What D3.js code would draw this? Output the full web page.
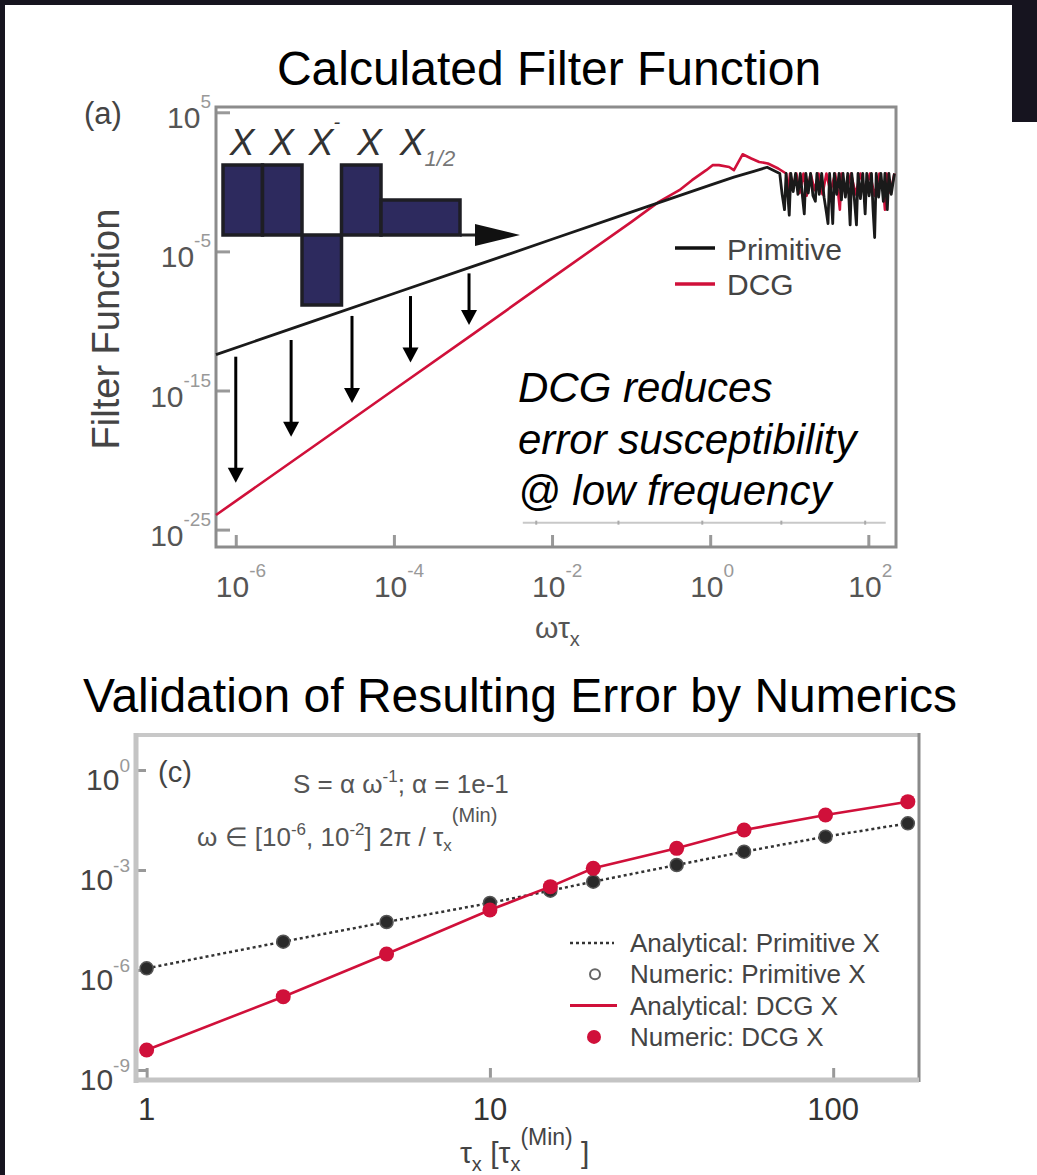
<!DOCTYPE html>
<html>
<head>
<meta charset="utf-8">
<script src="https://cdn.jsdelivr.net/npm/d3@7/dist/d3.min.js"></script>
<style>
  body { margin: 0; background: #fff; }
  svg text { font-family: "Liberation Sans", Arial, Helvetica, sans-serif; }
</style>
</head>
<body>
<svg id="fig" width="1037" height="1175"></svg>
<script>
// ---------- panel (a) data : log10 values ----------
const primLogW = [-6.25,-5,-4,-3,-2,-1,0,0.3,0.55,0.72,0.88,
  0.91,0.94,0.96,0.98,1.00,1.02,1.05,1.08,1.11,1.14,1.17,1.19,1.21,1.24,1.27,1.30,1.33,1.35,1.38,1.41,
  1.44,1.47,1.49,1.51,1.53,1.55,1.57,1.60,1.63,1.66,1.68,1.71,1.74,1.77,1.79,1.82,1.85,1.87,1.90,1.93,
  1.96,1.98,2.01,2.04,2.06,2.08,2.10,2.13,2.16,2.19,2.21,2.24,2.26,2.29,2.33];
const primLogF = [-12.42,-9.98,-8.03,-6.08,-4.13,-2.18,-0.24,0.34,0.75,1.05,0.6,
  -0.9,-2.0,0.6,-0.8,-2.4,0.6,-0.7,0.6,-0.9,0.6,-1.2,-2.3,0.6,-0.8,0.6,-1.0,-1.4,0.6,-0.9,0.6,
  -1.1,-2.2,-3.0,0.6,-1.0,-3.0,0.6,-0.9,0.6,-1.3,0.6,-1.1,0.6,-3.1,0.6,-1.0,-3.1,0.6,-1.2,0.6,
  -2.3,0.6,-1.0,0.6,-2.0,-4.0,0.6,-1.1,0.6,-1.4,0.6,-2.0,0.6,-0.9,0.6];

const dcgLogW = [-6.25,-5,-4,-3,-2,-1,-0.65,-0.39,-0.23,-0.05,0.03,0.11,0.24,0.3,0.41,0.52,0.62,0.73,0.86,0.96,
  0.98,1.01,1.05,1.09,1.13,1.18,1.22,1.27,1.32,1.37,1.42,1.47,1.52,1.58,1.62,1.64,1.66,1.72,1.78,1.84,
  1.90,1.96,2.02,2.08,2.14,2.19,2.21,2.23,2.28,2.33];
const dcgLogF = [-23.95,-18.95,-14.95,-10.95,-6.9,-2.9,-1.44,-0.6,0.12,0.84,1.2,1.2,1.07,0.84,1.98,1.68,1.43,1.32,0.96,0.6,
  -1.0,0.6,-0.3,0.6,-0.8,0.6,-1.0,0.6,-0.6,0.6,-0.9,0.6,-0.7,0.6,-0.9,-2.0,0.6,-0.8,0.6,-0.9,
  0.6,-0.7,0.6,-1.0,0.6,-0.6,-2.0,0.6,-0.8,0.6];

// arrows: where primitive is pushed down to DCG
const arrowLogW    = [-6.0, -5.3, -4.53, -3.79, -3.05];
const arrowFromLog = [-12.57, -11.37, -9.64, -8.21, -6.58];
const arrowToLog   = [-21.63, -18.33, -15.89, -12.99, -10.29];

// faint leftover axis seen inside panel (a)
const ghostTickLogW = [-2.2, -1.16, -0.1, 0.9, 1.96];

// pulse sequence inset
const pulseLabels = ['X', 'X', 'X', 'X', 'X'];
const pulseSup    = ['', '', '-', '', ''];
const pulseSub    = ['', '', '', '', '1/2'];
const pulseAmp    = [1, 1, -1, 1, 0.5];
const pulseLen    = [1, 1, 1, 1, 2];

const ffXTicks = [-6, -4, -2, 0, 2];
const ffYTicks = [5, -5, -15, -25];
const ffLegend = ['Primitive', 'DCG'];
const ffNote   = ['DCG reduces', 'error susceptibility', '@ low frequency'];

// ---------- panel (c) data ----------
const tauVals    = [1, 2.5, 5, 10, 15, 20, 35, 55, 95, 165];
const primErrLog = [-5.95, -5.15, -4.56, -3.99, -3.62, -3.35, -2.85, -2.45, -2.0, -1.6];
const dcgErrLog  = [-8.4, -6.8, -5.52, -4.2, -3.5, -2.95, -2.35, -1.8, -1.35, -0.95];
const errXTicks  = [1, 10, 100];
const errYTicks  = [0, -3, -6, -9];
const errLegend  = ['Analytical: Primitive X', 'Numeric: Primitive X', 'Analytical: DCG X', 'Numeric: DCG X'];

const RED = '#d0103a';
const svg = d3.select('#fig');

// text built from runs: {t, size, off (baseline offset), fill}
function richText(g, x, y, runs, base) {
    const t = g.append('text').attr('x', x).attr('y', y)
        .attr('font-size', base.size).attr('fill', base.fill || '#000')
        .attr('text-anchor', base.anchor || 'start')
        .attr('font-style', base.style || 'normal');
    let cur = 0;
    runs.forEach(r => {
        const off = r.off || 0;
        const ts = t.append('tspan').attr('dy', off - cur).text(r.t);
        if (r.size) ts.attr('font-size', r.size);
        if (r.fill) ts.attr('fill', r.fill);
        cur = off;
    });
    return t;
}

// ---------- outer frame ----------
svg.append('rect').attr('x', 0).attr('y', 0).attr('width', 1037).attr('height', 5).attr('fill', '#16141f');
svg.append('rect').attr('x', 0).attr('y', 0).attr('width', 5).attr('height', 1175).attr('fill', '#16141f');
svg.append('rect').attr('x', 1012).attr('y', 0).attr('width', 25).attr('height', 122).attr('fill', '#16141f');

// ---------- titles ----------
svg.append('text').attr('x', 549).attr('y', 85).attr('text-anchor', 'middle')
    .attr('font-size', 48).attr('fill', '#000').text('Calculated Filter Function');
svg.append('text').attr('x', 520).attr('y', 712).attr('text-anchor', 'middle')
    .attr('font-size', 48).attr('fill', '#000').text('Validation of Resulting Error by Numerics');

// ================= panel (a) =================
const A = { left: 216, right: 896, top: 107, bottom: 547 };
const xA = d3.scaleLog().domain([Math.pow(10, -6.25), Math.pow(10, 2.35)]).range([A.left, A.right]);
const yA = d3.scaleLog().domain([Math.pow(10, -26.25), Math.pow(10, 5.38)]).range([A.bottom, A.top]);
const gA = svg.append('g');

// ghost axis
const ghostY = yA(Math.pow(10, -24.5));
gA.append('line').attr('x1', xA(Math.pow(10, -2.37))).attr('x2', xA(Math.pow(10, 2.22)))
    .attr('y1', ghostY).attr('y2', ghostY)
    .attr('stroke', '#c8c8c8').attr('stroke-width', 2);
gA.selectAll('.ghost').data(ghostTickLogW).enter().append('line')
    .attr('x1', d => xA(Math.pow(10, d))).attr('x2', d => xA(Math.pow(10, d)))
    .attr('y1', ghostY - 2).attr('y2', ghostY + 2)
    .attr('stroke', '#aaa').attr('stroke-width', 2);

// axes (ticks inward)
const xAxisA = d3.axisBottom(xA).tickValues(ffXTicks.map(e => Math.pow(10, e))).tickSize(-12).tickFormat('');
const yAxisA = d3.axisLeft(yA).tickValues(ffYTicks.map(e => Math.pow(10, e))).tickSize(-14).tickFormat('');
const xgA = gA.append('g').attr('transform', `translate(0, ${A.bottom})`).call(xAxisA);
const ygA = gA.append('g').attr('transform', `translate(${A.left}, 0)`).call(yAxisA);
[xgA, ygA].forEach(g => {
    g.select('.domain').remove();
    g.selectAll('.tick line').attr('stroke', '#999').attr('stroke-width', 3);
});

ffXTicks.forEach(e => {
    richText(gA, xA(Math.pow(10, e)) - 20, A.bottom + 50,
        [{ t: '10' }, { t: String(e), size: 19, off: -20, fill: '#999' }],
        { size: 30, fill: '#555' });
});
ffYTicks.forEach(e => {
    richText(gA, A.left - 5, yA(Math.pow(10, e)) + 16,
        [{ t: '10' }, { t: String(e), size: 19, off: -20, fill: '#999' }],
        { size: 30, fill: '#555', anchor: 'end' });
});

// frame
gA.append('rect').attr('x', A.left).attr('y', A.top)
    .attr('width', A.right - A.left).attr('height', A.bottom - A.top)
    .attr('fill', 'none').attr('stroke', '#8c8c8c').attr('stroke-width', 3);

// axis labels
svg.append('text').attr('transform', 'translate(119, 329) rotate(-90)')
    .attr('text-anchor', 'middle').attr('font-size', 38).attr('fill', '#444').text('Filter Function');
richText(svg, 535, 638, [{ t: 'ωτ' }, { t: 'x', size: 20, off: 8 }], { size: 30, fill: '#555' });
svg.append('text').attr('x', 84).attr('y', 124).attr('font-size', 31).attr('fill', '#444').text('(a)');

// filter function curves
const lineA = d3.line().x(d => xA(Math.pow(10, d[0]))).y(d => yA(Math.pow(10, d[1])));
gA.append('path').datum(d3.zip(dcgLogW, dcgLogF)).attr('d', lineA)
    .attr('fill', 'none').attr('stroke', RED).attr('stroke-width', 2.6).attr('stroke-linejoin', 'round');
gA.append('path').datum(d3.zip(primLogW, primLogF)).attr('d', lineA)
    .attr('fill', 'none').attr('stroke', '#1a1a1a').attr('stroke-width', 2.8).attr('stroke-linejoin', 'round');

// arrows
const arrows = d3.zip(arrowLogW, arrowFromLog, arrowToLog);
const ag = gA.selectAll('.arrow').data(arrows).enter().append('g');
ag.append('line')
    .attr('x1', d => xA(Math.pow(10, d[0]))).attr('x2', d => xA(Math.pow(10, d[0])))
    .attr('y1', d => yA(Math.pow(10, d[1]))).attr('y2', d => yA(Math.pow(10, d[2])) - 12)
    .attr('stroke', '#000').attr('stroke-width', 3);
ag.append('path')
    .attr('d', d => {
        const x = xA(Math.pow(10, d[0])), y = yA(Math.pow(10, d[2]));
        return `M${x - 8},${y - 15}L${x + 8},${y - 15}L${x},${y}Z`;
    })
    .attr('fill', '#000');

// pulse inset
const pStart = d3.cumsum([0].concat(pulseLen.slice(0, -1)));
const xP = d3.scaleLinear().domain([0, d3.sum(pulseLen)]).range([223, 460]);
const yP = d3.scaleLinear().domain([-1, 1]).range([305, 165]);
const gP = svg.append('g');
gP.append('line').attr('x1', xP(d3.sum(pulseLen))).attr('x2', 478)
    .attr('y1', yP(0)).attr('y2', yP(0)).attr('stroke', '#222').attr('stroke-width', 3);
gP.append('path').attr('d', `M475,${yP(0) - 11}L520,${yP(0)}L475,${yP(0) + 11}Z`).attr('fill', '#111');
gP.selectAll('rect').data(pulseAmp).enter().append('rect')
    .attr('x', (d, i) => xP(pStart[i]))
    .attr('width', (d, i) => xP(pStart[i] + pulseLen[i]) - xP(pStart[i]))
    .attr('y', d => Math.min(yP(d), yP(0)))
    .attr('height', d => Math.abs(yP(d) - yP(0)))
    .attr('fill', '#2d2a5e').attr('stroke', '#1e1e24').attr('stroke-width', 3.5);
pulseLabels.forEach((lab, i) => {
    const runs = [{ t: lab }];
    if (pulseSup[i]) runs.push({ t: pulseSup[i], size: 20, off: -26 });
    if (pulseSub[i]) runs.push({ t: pulseSub[i], size: 22, off: 11, fill: '#777' });
    const cx = xP(pStart[i] + pulseLen[i] / 2);
    // leave room after a label that carries a superscript
    const nudge = (i > 0 && pulseSup[i - 1]) ? 9 : 0;
    if (pulseLen[i] > 1) {
        richText(gP, cx + 7, 155, runs, { size: 37, fill: '#333', anchor: 'middle', style: 'italic' });
    } else {
        richText(gP, cx - 13 + nudge, 155, runs, { size: 37, fill: '#333', style: 'italic' });
    }
});

// legend (a)
const legA = svg.append('g');
['#111', RED].forEach((c, i) => {
    legA.append('line').attr('x1', 675).attr('x2', 715)
        .attr('y1', 248 + i * 36).attr('y2', 248 + i * 36)
        .attr('stroke', c).attr('stroke-width', 3.5);
    legA.append('text').attr('x', 727).attr('y', 260 + i * 35)
        .attr('font-size', 30).attr('fill', '#444').text(ffLegend[i]);
});

// annotation
ffNote.forEach((s, i) => {
    svg.append('text').attr('x', 518).attr('y', 402 + i * 51.6)
        .attr('font-size', 42).attr('font-style', 'italic').attr('fill', '#000').text(s);
});

// ================= panel (c) =================
const C = { left: 136, right: 919, top: 735, bottom: 1080 };
const xC = d3.scaleLog().domain([Math.pow(10, -0.031), Math.pow(10, 2.25)]).range([C.left, C.right]);
const yC = d3.scaleLog().domain([Math.pow(10, -9.3), Math.pow(10, 1.05)]).range([C.bottom, C.top]);
const gC = svg.append('g');

// frame
gC.append('line').attr('x1', C.left).attr('x2', C.right).attr('y1', C.top).attr('y2', C.top)
    .attr('stroke', '#c8c8c8').attr('stroke-width', 4);
gC.append('line').attr('x1', C.right).attr('x2', C.right).attr('y1', C.top - 2).attr('y2', C.bottom + 2)
    .attr('stroke', '#8a8a8a').attr('stroke-width', 3);

const xAxisC = d3.axisBottom(xC).tickValues(errXTicks).tickSize(-12).tickFormat('');
const yAxisC = d3.axisLeft(yC).tickValues(errYTicks.map(e => Math.pow(10, e))).tickSize(-10).tickFormat('');
const xgC = gC.append('g').attr('transform', `translate(0, ${C.bottom})`).call(xAxisC);
const ygC = gC.append('g').attr('transform', `translate(${C.left}, 0)`).call(yAxisC);
[xgC, ygC].forEach(g => {
    g.select('.domain').remove();
    g.selectAll('.tick line').attr('stroke', '#999').attr('stroke-width', 3);
});
gC.append('line').attr('x1', C.left).attr('x2', C.left).attr('y1', C.top - 2).attr('y2', C.bottom + 3)
    .attr('stroke', '#c4c4c4').attr('stroke-width', 5);
gC.append('line').attr('x1', C.left - 2).attr('x2', C.right).attr('y1', C.bottom).attr('y2', C.bottom)
    .attr('stroke', '#c4c4c4').attr('stroke-width', 5);

errXTicks.forEach(v => {
    gC.append('text').attr('x', xC(v)).attr('y', C.bottom + 40).attr('text-anchor', 'middle')
        .attr('font-size', 31).attr('fill', '#333').text(String(v));
});
errYTicks.forEach(e => {
    richText(gC, C.left - 6, yC(Math.pow(10, e)) + 20,
        [{ t: '10' }, { t: String(e), size: 19, off: -18, fill: '#999' }],
        { size: 30, fill: '#444', anchor: 'end' });
});

// curves and points
const lineC = d3.line().x(d => xC(d[0])).y(d => yC(Math.pow(10, d[1])));
const primC = d3.zip(tauVals, primErrLog);
const dcgC = d3.zip(tauVals, dcgErrLog);
gC.append('path').datum(primC).attr('d', lineC)
    .attr('fill', 'none').attr('stroke', '#333').attr('stroke-width', 2.5).attr('stroke-dasharray', '3,3');
gC.selectAll('.pp').data(primC).enter().append('circle')
    .attr('cx', d => xC(d[0])).attr('cy', d => yC(Math.pow(10, d[1]))).attr('r', 6.5)
    .attr('fill', '#2a2a2a').attr('stroke', '#555').attr('stroke-width', 1.5);
gC.append('path').datum(dcgC).attr('d', lineC)
    .attr('fill', 'none').attr('stroke', RED).attr('stroke-width', 2.6);
gC.selectAll('.dp').data(dcgC).enter().append('circle')
    .attr('cx', d => xC(d[0])).attr('cy', d => yC(Math.pow(10, d[1]))).attr('r', 7.5)
    .attr('fill', RED);

// legend (c)
const legC = svg.append('g');
const lx = 570, ly = 943, ls = 31.3;
legC.append('line').attr('x1', lx).attr('x2', lx + 44).attr('y1', ly).attr('y2', ly)
    .attr('stroke', '#333').attr('stroke-width', 2.5).attr('stroke-dasharray', '3,3');
legC.append('circle').attr('cx', lx + 25).attr('cy', ly + ls).attr('r', 5)
    .attr('fill', 'none').attr('stroke', '#666').attr('stroke-width', 2);
legC.append('line').attr('x1', lx).attr('x2', lx + 47).attr('y1', ly + 2 * ls).attr('y2', ly + 2 * ls)
    .attr('stroke', RED).attr('stroke-width', 3);
legC.append('circle').attr('cx', lx + 24).attr('cy', ly + 3 * ls).attr('r', 7).attr('fill', RED);
errLegend.forEach((s, i) => {
    legC.append('text').attr('x', 630).attr('y', ly + 9 + i * ls)
        .attr('font-size', 26).attr('fill', '#444').text(s);
});

// annotations (c)
svg.append('text').attr('x', 158).attr('y', 782).attr('font-size', 29).attr('fill', '#444').text('(c)');
richText(svg, 293, 793,
    [{ t: 'S = α ω' }, { t: '-1', size: 17, off: -11 }, { t: '; α = 1e-1', off: 0 }],
    { size: 26, fill: '#555' });
richText(svg, 197, 846,
    [{ t: 'ω ∈ [10' }, { t: '-6', size: 17, off: -11 }, { t: ', 10', off: 0 },
     { t: '-2', size: 17, off: -11 }, { t: '] 2π / τ', off: 0 },
     { t: 'x', size: 17, off: 5 }, { t: '(Min)', size: 20, off: -24 }],
    { size: 26, fill: '#555' });

// x label (c)
richText(svg, 460, 1163,
    [{ t: 'τ' }, { t: 'x', size: 20, off: 8 }, { t: '  [τ', off: 0 }, { t: 'x', size: 20, off: 8 },
     { t: '(Min)', size: 23, off: -18 }, { t: ' ]', off: 0 }],
    { size: 30, fill: '#444' });
</script>
</body>
</html>
